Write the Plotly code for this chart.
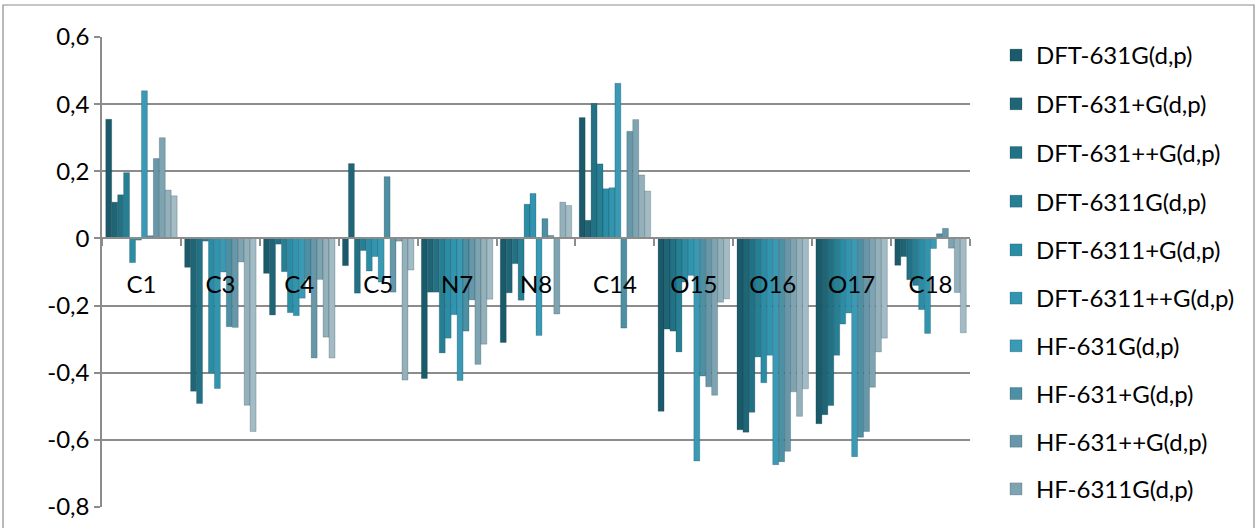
import plotly.graph_objects as go

# Atom labels along the category axis
atoms = ["C1", "C3", "C4", "C5", "N7", "N8", "C14", "O15", "O16", "O17", "C18"]

# Charges per method, one list per series (same order as atoms)
dft_631g = [0.355, -0.086, -0.104, -0.081, -0.417, -0.310, 0.360, -0.515, -0.570, -0.552, -0.080]
dft_631pg = [0.108, -0.455, -0.228, 0.223, -0.160, -0.162, 0.054, -0.270, -0.577, -0.525, -0.054]
dft_631ppg = [0.130, -0.492, -0.017, -0.163, -0.160, -0.075, 0.402, -0.276, -0.518, -0.498, -0.123]
dft_6311g = [0.196, -0.008, -0.099, -0.036, -0.341, -0.184, 0.222, -0.338, -0.353, -0.348, -0.140]
dft_6311pg = [-0.072, -0.400, -0.221, -0.097, -0.297, 0.102, 0.148, -0.130, -0.430, -0.255, -0.212]
dft_6311ppg = [-0.005, -0.447, -0.230, -0.054, -0.227, 0.134, 0.151, -0.110, -0.348, -0.222, -0.283]
hf_631g = [0.440, -0.100, -0.178, -0.130, -0.423, -0.289, 0.462, -0.663, -0.674, -0.650, -0.030]
hf_631pg = [0.008, -0.263, -0.120, 0.184, -0.276, 0.059, -0.267, -0.410, -0.665, -0.592, 0.014]
hf_631ppg = [0.238, -0.265, -0.356, -0.160, -0.183, 0.009, 0.319, -0.442, -0.634, -0.575, 0.030]
hf_6311g = [0.300, -0.070, -0.122, -0.008, -0.375, -0.225, 0.354, -0.467, -0.457, -0.443, -0.029]
hf_6311pg = [0.144, -0.497, -0.294, -0.422, -0.315, 0.108, 0.189, -0.190, -0.530, -0.338, -0.161]
hf_6311ppg = [0.127, -0.575, -0.356, -0.094, -0.181, 0.098, 0.141, -0.180, -0.448, -0.297, -0.281]

series_names = [
    "DFT-631G(d,p)", "DFT-631+G(d,p)", "DFT-631++G(d,p)", "DFT-6311G(d,p)",
    "DFT-6311+G(d,p)", "DFT-6311++G(d,p)", "HF-631G(d,p)", "HF-631+G(d,p)",
    "HF-631++G(d,p)", "HF-6311G(d,p)", "HF-6311+G(d,p)", "HF-6311++G(d,p)",
]
series_values = [
    dft_631g, dft_631pg, dft_631ppg, dft_6311g, dft_6311pg, dft_6311ppg,
    hf_631g, hf_631pg, hf_631ppg, hf_6311g, hf_6311pg, hf_6311ppg,
]
series_colors = [
    "#1b5a6a", "#1f6576", "#227184", "#277f94", "#2b8ca5", "#3195b0",
    "#3a99b4", "#4d8fa3", "#6797a8", "#7fa4b1", "#93b0bb", "#a3bbc4",
]

# Value axis ticks
y_min, y_max = -0.8, 0.6
y_tickvals = [-0.8, -0.6, -0.4, -0.2, 0.0, 0.2, 0.4, 0.6]
y_ticktext = ["-0,8", "-0,6", "-0,4", "-0,2", "0", "0,2", "0,4", "0,6"]

# Only the first ten methods fit in the legend box; split over two stacked legends
legend_visible = 10

FONT = "Lato"
GRID = "#8c8c8c"
FS = 24

fig = go.Figure()
for i, (name, vals, col) in enumerate(zip(series_names, series_values, series_colors)):
    fig.add_trace(go.Bar(
        name=name,
        x=atoms,
        y=vals,
        marker=dict(color=col, line=dict(color="rgba(0,40,50,0.35)", width=0.6)),
        legendgroup=name,
        legend="legend" if i < 5 else "legend2",
        showlegend=i < legend_visible,
    ))

# Place the category axis on the zero line
zero_pos = (0 - y_min) / (y_max - y_min)

# Plot area: x 102..970, y 37..507 in a 1258x528 page
L, R, T, B = 102, 288, 37, 21
W, H = 1258, 528
pw, ph = W - L - R, H - T - B

legend_common = dict(
    xanchor="left", yanchor="top",
    traceorder="grouped",
    font=dict(family=FONT, size=FS, color="black"),
    bgcolor="rgba(0,0,0,0)",
)
lx = (996 - L) / pw

fig.update_layout(
    width=W, height=H,
    margin=dict(l=L, r=R, t=T, b=B, autoexpand=False),
    paper_bgcolor="white",
    plot_bgcolor="white",
    barmode="group",
    bargap=0.095,
    bargroupgap=0,
    font=dict(family=FONT, size=FS, color="black"),
    xaxis=dict(
        type="category",
        anchor="free",
        position=zero_pos,
        showline=True, linecolor=GRID, linewidth=1.5,
        ticks="outside", tickson="boundaries", ticklen=7, tickcolor=GRID, tickwidth=1.5,
        showgrid=False,
        ticklabelstandoff=25,
        tickfont=dict(family=FONT, size=FS, color="black"),
    ),
    yaxis=dict(
        range=[y_min, y_max],
        tickvals=y_tickvals, ticktext=y_ticktext,
        showgrid=True, gridcolor=GRID, gridwidth=1.5,
        zeroline=False,
        showline=True, linecolor=GRID, linewidth=1.5,
        ticks="outside", ticklen=6, tickcolor=GRID, tickwidth=1.5,
        tickfont=dict(family=FONT, size=FS, color="black"),
    ),
    legend=dict(x=lx, y=1 - (33 - T) / ph, tracegroupgap=14.5, **legend_common),
    legend2=dict(x=lx, y=1 - (276 - T) / ph, tracegroupgap=13.5, **legend_common),
    shapes=[dict(
        type="rect", xref="paper", yref="paper",
        x0=(3 - L) / pw, x1=(1254 - L) / pw,
        y0=-(B + 5) / ph, y1=1 + (T - 5) / ph,
        line=dict(color=GRID, width=1.2), fillcolor="rgba(0,0,0,0)", layer="below",
    )],
)

fig.write_html("out.html")
